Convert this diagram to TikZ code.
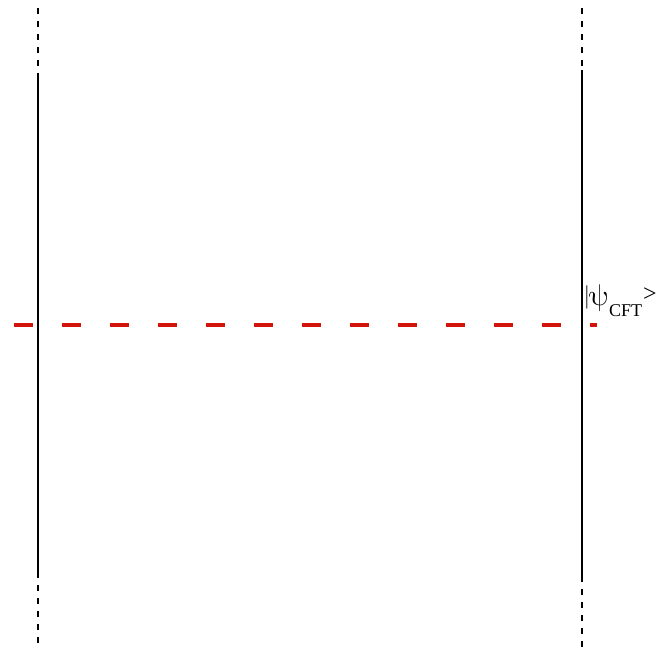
\documentclass[tikz,border=0pt]{standalone}
\usepackage{fontspec}
\usepackage{unicode-math}
\setmainfont{Liberation Serif}
\setmathfont{Latin Modern Math}
\begin{document}
\begin{tikzpicture}[x=1pt,y=-1pt,
  solidline/.style={line width=2.6pt,black},
  dashline/.style={line width=1.8pt,black,dash pattern=on 6pt off 7pt},
  reddash/.style={line width=4pt,color={rgb,255:red,210;green,20;blue,10},dash pattern=on 19pt off 29pt}]
\useasboundingbox (0,0) rectangle (660,652);
% left line
\coordinate (lt) at (38,8);
\coordinate (ls1) at (38,76);
\coordinate (ls2) at (38,572);
\coordinate (lb) at (38,645);
\draw[dashline] (lt) -- (ls1);
\draw[solidline] (ls1) -- (ls2);
\draw[dashline] (ls2) -- (lb);
% right line
\coordinate (rt) at (582,8);
\coordinate (rs1) at (582,70);
\coordinate (rs2) at (582,576);
\coordinate (rb) at (582,648);
\draw[dashline] (rt) -- (rs1);
\draw[solidline] (rs1) -- (rs2);
\draw[dashline] (rs2) -- (rb);
% red dashed
\coordinate (ra) at (14,325);
\coordinate (rz) at (597,325);
\draw[reddash] (ra) -- (rz);
% label
\node[anchor=base west,inner sep=0pt,font=\fontsize{30}{32}\selectfont] (lab) at (585,305)
  {\raisebox{2pt}{\scalebox{0.6}[0.85]{|}}\kern1pt$\symup{\psi}$\raisebox{-11pt}{\fontsize{18}{19}\selectfont CFT}\kern1pt\raisebox{4pt}{\fontsize{24}{26}\selectfont >}};
\end{tikzpicture}
\end{document}
